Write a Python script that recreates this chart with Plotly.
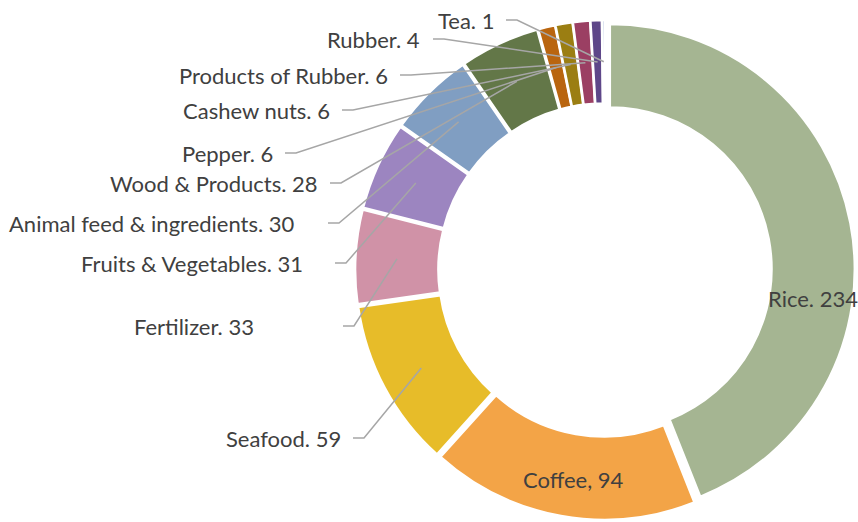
import math
import plotly.graph_objects as go

# export volumes by product
products = ["Rice", "Coffee", "Seafood", "Fertilizer", "Fruits & Vegetables",
            "Animal feed & ingredients", "Wood & Products", "Pepper", "Cashew nuts",
            "Products of Rubber", "Rubber", "Tea"]
values = [234, 94, 59, 33, 31, 30, 28, 6, 6, 6, 4, 1]
label_text = ["Rice. 234", "Coffee, 94", "Seafood. 59", "Fertilizer. 33",
              "Fruits & Vegetables. 31", "Animal feed & ingredients. 30",
              "Wood & Products. 28", "Pepper. 6", "Cashew nuts. 6",
              "Products of Rubber. 6", "Rubber. 4", "Tea. 1"]

colors = ["#A5B592", "#F3A447", "#E7BC29", "#D092A7", "#9C85C0", "#809EC2",
          "#637748", "#B9650F", "#9B7E12", "#9B3F63", "#5E4789", "#9FB4D6"]

W, H = 858, 522
CX, CY, R = 605, 270, 245      # pie centre / outer radius in px
PULL = 0.02
HOLE = 0.66

# where each outside label sits: (text right edge, text middle y, leader start x)
outside_pos = {
    "Seafood": (343, 438, 353),
    "Fertilizer": (256, 326, 343),
    "Fruits & Vegetables": (305, 263, 335),
    "Animal feed & ingredients": (297, 223, 328),
    "Wood & Products": (320, 183, 330),
    "Pepper": (275, 153, 285),
    "Cashew nuts": (332, 110, 342),
    "Products of Rubber": (390, 75, 400),
    "Rubber": (422, 39, 433),
    "Tea": (496, 20, 506),
}
inside_pos = {"Rice": (766, 298, "left"), "Coffee": (573, 479, "center")}

half = R * (1 + PULL)
fig = go.Figure()
fig.add_trace(go.Pie(
    labels=products, values=values, hole=HOLE, sort=False,
    direction="clockwise", rotation=0, pull=[PULL] * len(values),
    marker=dict(colors=colors, line=dict(color="white", width=2.5)),
    textinfo="none", hoverinfo="label+value", showlegend=False,
    domain=dict(x=[(CX - half) / W, min(1, (CX + half) / W)],
                y=[1 - (CY + half) / H, 1 - (CY - half) / H]),
))

# invisible pixel axes for labels and leader lines
fig.add_trace(go.Scatter(x=[0, W], y=[0, H], mode="markers",
                         marker=dict(opacity=0), hoverinfo="skip", showlegend=False))

total = sum(values)
r_mid = R * (1 + HOLE) / 2 + R * PULL
cum = 0
font = dict(family="Lato, Calibri, sans-serif", size=22, color="#404040")
for name, v, txt in zip(products, values, label_text):
    theta = (cum + v / 2) / total * 2 * math.pi
    cum += v
    ex = CX + r_mid * math.sin(theta)
    ey = CY - r_mid * math.cos(theta)
    if name in outside_pos:
        tx, ty, lx = outside_pos[name]
        fig.add_annotation(x=tx, y=ty, text=txt, showarrow=False,
                           xanchor="right", yanchor="middle", font=font)
        fig.add_shape(type="path", path=f"M {lx} {ty} L {lx + 11} {ty} L {ex:.1f} {ey:.1f}",
                      line=dict(color="#A6A6A6", width=1.5), layer="above")
    else:
        tx, ty, anc = inside_pos[name]
        fig.add_annotation(x=tx, y=ty, text=txt, showarrow=False,
                           xanchor=anc, yanchor="middle", font=font)

fig.update_xaxes(range=[0, W], visible=False, fixedrange=True)
fig.update_yaxes(range=[H, 0], visible=False, fixedrange=True)
fig.update_layout(width=W, height=H, margin=dict(l=0, r=0, t=0, b=0),
                  paper_bgcolor="white", plot_bgcolor="rgba(0,0,0,0)",
                  showlegend=False)

# drop the default page margin so the figure fills the window
fig.write_html("out.html", config={"displayModeBar": False},
               post_script="document.body.style.margin='0';document.body.style.overflow='hidden';")
